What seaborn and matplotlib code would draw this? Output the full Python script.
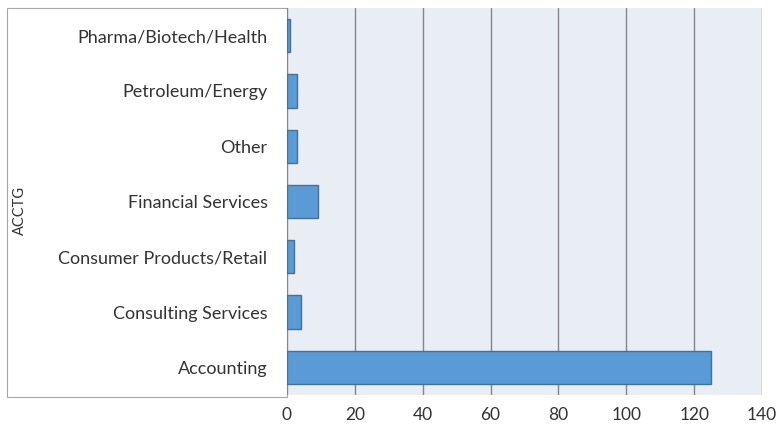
import matplotlib
matplotlib.use("Agg")
import matplotlib.pyplot as plt
import seaborn as sns
import pandas as pd
from matplotlib.patches import Rectangle

# data (top to bottom)
industries = ["Pharma/Biotech/Health", "Petroleum/Energy", "Other",
              "Financial Services", "Consumer Products/Retail",
              "Consulting Services", "Accounting"]
counts = [1, 3, 3, 9, 2, 4, 125]
x_ticks = [0, 20, 40, 60, 80, 100, 120, 140]

df = pd.DataFrame({"industry": industries, "count": counts})

sns.set_style("white")
plt.rcParams["font.family"] = ["Lato", "DejaVu Sans"]

fig = plt.figure(figsize=(7.78, 4.33), dpi=100)

# white label box with a thin grey border on the left (behind the axes)
box = Rectangle((7 / 778, 1 - 397 / 433), 280 / 778, 389 / 433,
                transform=fig.transFigure, facecolor="white",
                edgecolor="#a6a6a6", linewidth=0.8, zorder=-1)
fig.patches.append(box)

ax = fig.add_axes([287 / 778, 1 - 395 / 433, 475 / 778, 387 / 433])
ax.set_facecolor("#e9edf4")

sns.barplot(data=df, x="count", y="industry", order=industries,
            color="#5b9bd5", edgecolor="#41719c", linewidth=1,
            width=0.6, saturation=1, ax=ax, zorder=3)

ax.set_xlim(0, 140)
ax.set_ylim(6.5, -0.5)
ax.set_xticks(x_ticks)
ax.set_xticklabels([str(t) for t in x_ticks])
ax.xaxis.grid(True, color="#868686", linewidth=1)
ax.set_axisbelow(True)
ax.tick_params(axis="x", length=4, width=1, color="#868686",
               labelsize=12.5, pad=5, labelcolor="#333333")
ax.tick_params(axis="y", length=0, labelsize=13, pad=14,
               labelcolor="#333333")
for s in ax.spines.values():
    s.set_visible(False)
ax.set_xlabel("")
ax.set_ylabel("")

fig.text(20 / 778, 1 - 210 / 433, "ACCTG", rotation=90, ha="center",
         va="center", fontsize=10.5, color="#333333")

fig.savefig("out.png", dpi=100)
